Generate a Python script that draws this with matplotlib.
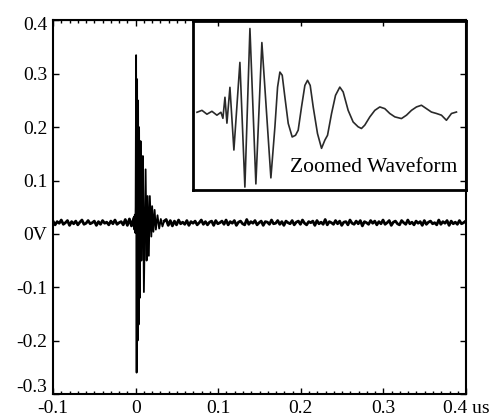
import numpy as np
import matplotlib
matplotlib.use("Agg")
import matplotlib.pyplot as plt
import matplotlib.transforms as mtransforms
from matplotlib.ticker import FixedLocator

plt.rcParams['font.family'] = ['Liberation Serif', 'DejaVu Serif']

# main trace: baseline level (V), noise around it (mV), burst samples
baseline = 0.021
step_noise = 0.0025

pre_noise_mv = [3, -4, 2, -1, 5, -3, 0, 4, -5, 2, -2, 3, -4, 1, 5, -3, -1, 4, -2, 0,
                3, -5, 2, -3, 4, -1, 1, -4, 3, -2, 5, -3, 0, 2, -4, 6, -5, 7, -6]

burst_t = [-0.0025, -0.002, -0.0015, -0.001, -0.0005, 0.0, 0.0006, 0.0012, 0.0018, 0.0024,
           0.0030, 0.0036, 0.0042, 0.0050, 0.0060, 0.0070, 0.0080, 0.0088, 0.0100, 0.0121,
           0.0133, 0.0145, 0.0160, 0.0172, 0.0190, 0.0200, 0.0215, 0.0230, 0.0245, 0.0265,
           0.0285, 0.0305, 0.0325, 0.0345]
burst_v = [0.028, 0.032, 0.008, 0.036, 0.002, 0.050, 0.335, -0.260, 0.290, -0.200,
           0.250, -0.170, 0.200, -0.120, 0.174, -0.050, 0.120, 0.146, -0.109, 0.121,
           -0.050, 0.071, -0.041, 0.071, -0.005, 0.052, 0.004, 0.045, 0.008, 0.035,
           0.010, 0.028, 0.014, 0.024]

post_noise_mv = [6, -5, 4, -6, 3, -4, 5, -2, 1, -3, 4, -5, 2, -1, 3, -4, 0, 5, -3, 2,
                 -4, 1, 3, -5, 4, -2, 0, 3, -3, 5, -4, 2, -1, 4, -5, 1, 3, -2, -4, 6,
                 -3, 2, -1, 4, -4, 0, 3, -5, 2, 1, -3, 5, -2, -1, 4, -3, 2, -5, 3, 0,
                 -2, 4, -4, 1, 3, -3, 5, -1, -4, 2, 0, 3, -5, 4, -2, 1, -3, 6, -4, 2,
                 0, -3, 4, -2, 3, -5, 1, 2, -4, 5, -1, -3, 3, -2, 4, -6, 2, 0, -3, 4,
                 -1, 3, -4, 2, -2, 5, -3, 0, 4, -5, 1, 3, -2, -4, 4, 0, -3, 5, -2, 1,
                 -4, 3, -1, 2, -5, 4, -3, 1, 3, -2, 0, -4, 5, -3, 2, -1, 4, -5, 3, -2,
                 1, -3, 4, -2, 0, 3, -4, 2]

# zoomed waveform (inset): time in ns, amplitude in V
zoom_t_ns = [0.59, 1.32, 2.05, 2.78, 3.51, 4.10, 4.39, 4.69, 4.98, 5.42,
             6.00, 6.88, 7.61, 8.35, 9.22, 10.10, 11.42, 12.01, 12.40, 12.74,
             13.08, 13.47, 13.96, 14.54, 15.03, 15.42, 15.91, 16.40, 16.79, 17.18,
             17.62, 18.25, 18.84, 19.33, 19.72, 20.31, 20.89, 21.52, 22.01, 22.74,
             23.47, 24.20, 24.69, 25.18, 25.92, 26.65, 27.38, 28.11, 28.84, 29.58,
             30.55, 31.29, 32.02, 32.75, 33.48, 34.21, 34.94, 35.68, 36.41, 37.14,
             37.88, 38.61]
zoom_v = [0.021, 0.029, 0.013, 0.025, 0.009, 0.021, -0.004, 0.083, -0.024, 0.124,
          -0.135, 0.227, -0.288, 0.367, -0.275, 0.309, -0.250, -0.039, 0.125, 0.187,
          0.174, 0.084, -0.025, -0.081, -0.074, -0.053, 0.043, 0.132, 0.153, 0.132,
          0.043, -0.067, -0.128, -0.094, -0.074, 0.016, 0.091, 0.125, 0.105, 0.029,
          -0.019, -0.039, -0.046, -0.032, 0.002, 0.029, 0.043, 0.036, 0.016, 0.002,
          -0.005, 0.009, 0.029, 0.043, 0.050, 0.036, 0.022, 0.016, 0.009, -0.012,
          0.016, 0.022]

x_ticks = [-0.1, 0, 0.1, 0.2, 0.3, 0.4]
x_tick_labels = ['-0.1', '0', '0.1', '0.2', '0.3', '0.4 us']
y_ticks = [-0.3, -0.2, -0.1, 0, 0.1, 0.2, 0.3, 0.4]
y_tick_labels = ['-0.3', '-0.2', '-0.1', '0V', '0.1', '0.2', '0.3', '0.4']

pre_t = -0.1 + step_noise * np.arange(len(pre_noise_mv))
pre_v = baseline + np.array(pre_noise_mv) / 1000.0
post_t = burst_t[-1] + step_noise * np.arange(1, len(post_noise_mv) + 1)
post_v = baseline + np.array(post_noise_mv) / 1000.0

fig = plt.figure(figsize=(4.96, 4.17), dpi=100)
ax = fig.add_axes([0.1069, 0.0552, 0.8327, 0.8957])
# noisy baseline drawn heavier, the fast burst thinner
ax.plot(np.append(pre_t, burst_t[0]), np.append(pre_v, burst_v[0]), color='black', linewidth=2.0)
ax.plot(np.insert(post_t, 0, burst_t[-1]), np.insert(post_v, 0, burst_v[-1]), color='black', linewidth=2.0)
ax.plot(burst_t, burst_v, color='black', linewidth=1.3)
ax.set_xlim(-0.1, 0.4)
ax.set_ylim(-0.3, 0.4)

ax.set_xticks(x_ticks)
ax.set_xticklabels(x_tick_labels)
ax.set_yticks(y_ticks)
ax.set_yticklabels(y_tick_labels)
ax.xaxis.set_minor_locator(FixedLocator(np.arange(-0.1, 0.4001, 0.01)))
ax.tick_params(which='both', direction='in', top=False, right=True, labelsize=14, width=1)
ax.tick_params(which='major', length=4, pad=4)
ax.tick_params(which='minor', length=2)
ax.tick_params(axis='x', pad=4)
for sp in ax.spines.values():
    sp.set_linewidth(1.5)

# nudge the corner labels as in the original
ylabels = ax.get_yticklabels()
ylabels[0].set_transform(ylabels[0].get_transform() + mtransforms.ScaledTranslation(0, 0.08, fig.dpi_scale_trans))
ylabels[-1].set_transform(ylabels[-1].get_transform() + mtransforms.ScaledTranslation(0, -0.03, fig.dpi_scale_trans))

# top ticks: minor ones stop where the inset begins
top = ax.secondary_xaxis('top')
top.set_xticks(x_ticks)
top.xaxis.set_minor_locator(FixedLocator(np.arange(-0.09, 0.0601, 0.01)))
top.tick_params(which='both', direction='in', labeltop=False, width=1)
top.tick_params(which='major', length=4)
top.tick_params(which='minor', length=2)

ins = fig.add_axes([0.389, 0.5444, 0.5504, 0.4064])
ins.patch.set_alpha(0)
ins.plot(zoom_t_ns, zoom_v, color='#2a2a2a', linewidth=1.2)
ins.set_xlim(0, 40)
ins.set_ylim(-0.3, 0.4)
ins.set_xticks([])
ins.set_yticks([])
for sp in ins.spines.values():
    sp.set_linewidth(2)
ins.text(0.97, 0.135, 'Zoomed Waveform', transform=ins.transAxes,
         ha='right', va='center', fontsize=15.5)

fig.savefig('out.png', dpi=100)
